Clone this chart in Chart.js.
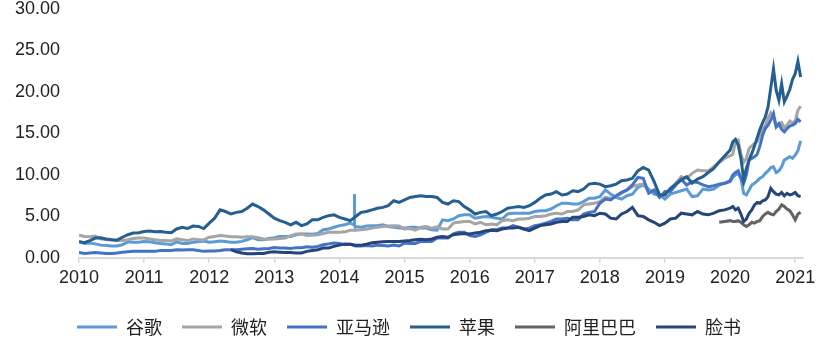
<!DOCTYPE html>
<html><head><meta charset="utf-8">
<script src="https://cdn.jsdelivr.net/npm/chart.js@4/dist/chart.umd.min.js"></script>
<style>html,body{margin:0;padding:0;background:#fff}#wrap{width:824px;height:358px;position:relative}</style>
</head><body><div id="wrap"><canvas id="c"></canvas></div>
<script>
// Date grid: monthly 2010-2019, half-monthly 2020 - Feb 2021 (decimal years)
const dates = [];
for (let i = 0; i < 120; i++) dates.push(2010 + i / 12);
for (let k = 0; k <= 26; k++) dates.push(2020 + k / 24);

const seriesNames = ['谷歌', '微软', '亚马逊', '苹果', '阿里巴巴', '脸书'];
const seriesColors = ['#5B9BD5', '#A5A5A5', '#4472C4', '#255E91', '#636363', '#264478'];
const seriesStart = [0, 0, 0, 0, 118, 28];
const xTickYears = [2010, 2011, 2012, 2013, 2014, 2015, 2016, 2017, 2018, 2019, 2020, 2021];
const yTicks = [0, 5, 10, 15, 20, 25, 30];

const google = [
  2.0, 1.75, 1.8, 1.7, 1.55, 1.5, 1.45, 1.45, 1.6, 1.95, 1.9, 1.9,
  2.0, 1.95, 1.85, 1.75, 1.7, 1.6, 1.95, 1.75, 1.75, 1.9, 1.95, 2.05,
  1.9, 1.95, 2.05, 2.0, 1.9, 1.9, 2.0, 2.2, 2.45, 2.2, 2.2, 2.35,
  2.45, 2.6, 2.6, 2.6, 2.8, 2.9, 2.9, 2.85, 2.95, 3.4, 3.5, 3.7,
  3.9, 4.0, 4.2, 3.8, 3.7, 3.85, 3.9, 3.9, 4.0, 3.8, 3.7, 3.6,
  3.6, 3.7, 3.7, 3.6, 3.6, 3.4, 3.35, 4.6, 4.5, 4.7, 5.1, 5.2,
  5.2, 4.8, 4.9, 5.0, 4.9, 4.8, 4.7, 5.3, 5.4, 5.4, 5.4, 5.4,
  5.6, 5.7, 5.7, 5.9, 6.3, 6.6, 6.6, 6.5, 6.5, 6.8, 7.2, 7.2,
  7.4, 8.2, 7.7, 7.3, 7.1, 7.5, 7.7, 8.5, 8.8, 8.3, 7.7, 7.6,
  7.1, 7.7, 7.9, 8.1, 8.3, 7.4, 7.5, 8.3, 8.2, 8.3, 8.8, 9.0,
  9.2, 9.7, 10.0, 10.2, 9.6, 7.8, 7.6, 8.2, 8.8, 9.0, 9.3, 9.6, 9.8, 10.2,
  10.5, 10.9, 11.0, 10.3, 10.5, 11.0, 11.8, 12.0, 12.2, 12.0, 12.4, 12.9, 14.1
];
const googleSpike = [[2014.226, 4.0], [2014.23, 7.7], [2014.234, 3.9]];

const microsoft = [
  2.75, 2.6, 2.55, 2.65, 2.3, 2.2, 2.2, 2.1, 2.1, 2.2, 2.35, 2.4,
  2.4, 2.3, 2.2, 2.1, 2.1, 2.05, 2.3, 2.2, 2.1, 2.3, 2.2, 2.2,
  2.5, 2.6, 2.7, 2.65, 2.55, 2.55, 2.5, 2.55, 2.55, 2.45, 2.3, 2.25,
  2.3, 2.35, 2.4, 2.7, 2.9, 2.9, 2.7, 2.75, 2.8, 2.95, 3.1, 3.1,
  3.1, 3.15, 3.35, 3.35, 3.4, 3.45, 3.6, 3.7, 3.8, 3.85, 3.9, 3.85,
  3.5, 3.55, 3.35, 3.7, 3.8, 3.6, 3.75, 3.5, 3.5, 4.2, 4.3, 4.4,
  4.4, 4.1, 4.3, 4.0, 4.1, 4.0, 4.5, 4.6, 4.5, 4.7, 4.7, 4.8,
  5.0, 5.0, 5.1, 5.3, 5.4, 5.3, 5.6, 5.6, 5.8, 6.4, 6.5, 6.6,
  6.8, 7.3, 7.2, 7.4, 7.8, 8.2, 8.6, 8.8, 8.9, 8.0, 8.2, 7.4,
  7.9, 8.2, 9.0, 9.8, 9.6, 10.2, 10.6, 10.5, 10.5, 11.0, 11.5, 12.0,
  12.3, 12.5, 14.0, 14.2, 12.5, 11.5, 12.0, 13.2, 13.5, 13.8, 14.0, 14.8, 15.5, 16.0,
  16.8, 17.5, 17.0, 15.8, 16.0, 16.3, 15.7, 16.0, 16.5, 16.3, 16.5, 17.8, 18.3
];

const amazon = [
  0.65, 0.55, 0.6, 0.65, 0.6, 0.55, 0.55, 0.6, 0.7, 0.75, 0.8, 0.8,
  0.8, 0.8, 0.8, 0.9, 0.9, 0.9, 1.0, 0.95, 1.0, 1.0, 0.9, 0.8,
  0.85, 0.85, 0.9, 1.0, 1.0, 1.0, 1.05, 1.1, 1.15, 1.05, 1.1, 1.15,
  1.25, 1.2, 1.2, 1.15, 1.25, 1.25, 1.35, 1.3, 1.4, 1.6, 1.7, 1.8,
  1.75, 1.6, 1.65, 1.45, 1.45, 1.5, 1.45, 1.55, 1.5, 1.45, 1.55, 1.45,
  1.8, 1.75, 1.75, 2.0, 2.0, 2.0, 2.4, 2.4, 2.4, 2.9, 3.1, 3.1,
  2.7, 2.6, 2.8, 3.1, 3.4, 3.4, 3.6, 3.6, 3.9, 3.7, 3.5, 3.6,
  3.9, 4.0, 4.2, 4.4, 4.7, 4.7, 4.8, 4.6, 4.6, 5.3, 5.5, 5.6,
  6.6, 7.1, 7.0, 7.5, 7.9, 8.2, 8.8, 9.7, 9.6, 7.8, 8.2, 7.3,
  8.0, 8.0, 8.8, 9.5, 8.8, 9.2, 9.1, 8.8, 8.6, 8.7, 8.9, 9.0,
  9.3, 10.0, 10.3, 10.5, 9.6, 9.0, 10.0, 11.8, 12.0, 12.2, 12.5, 13.5, 14.8, 15.6,
  16.0, 16.6, 17.4, 15.8, 16.2, 15.5, 15.2, 15.6, 15.9, 16.0, 16.2, 16.7, 16.4
];

const apple = [
  1.95, 1.85, 2.1, 2.4, 2.45, 2.3, 2.2, 2.15, 2.5, 2.8, 3.0, 3.05,
  3.2, 3.25, 3.15, 3.2, 3.1, 3.05, 3.5, 3.7, 3.55, 3.85, 3.8, 3.55,
  4.2, 4.8, 5.8, 5.6, 5.3, 5.5, 5.6, 6.0, 6.5, 6.2, 5.8, 5.3,
  4.8, 4.5, 4.3, 4.0, 4.3, 3.9, 4.1, 4.6, 4.6, 4.9, 5.1, 5.2,
  4.9, 4.7, 4.5, 5.0, 5.5, 5.6, 5.8, 6.0, 6.1, 6.3, 6.9, 6.7,
  7.0, 7.3, 7.4, 7.5, 7.4, 7.4, 7.3, 6.7, 6.5, 6.9, 6.8, 6.2,
  5.8, 5.3, 5.5, 5.6, 5.1, 5.3, 5.6, 6.0, 6.1, 6.2, 6.1, 6.3,
  6.7, 7.2, 7.6, 7.7, 8.0, 7.6, 7.7, 8.1, 8.0, 8.3, 8.9, 9.0,
  8.9, 8.6, 8.7, 8.9, 9.3, 9.4, 9.6, 10.5, 10.9, 10.6, 9.2, 7.6,
  7.6, 8.4, 8.9, 9.4, 9.8, 9.0, 9.5, 9.8, 10.3, 10.8, 11.6, 12.3,
  13.0, 14.0, 14.3, 13.6, 12.0, 9.5, 10.8, 11.8, 12.6, 13.5, 14.5, 15.5, 16.3, 17.0,
  18.2, 20.5, 22.8, 20.2, 19.0, 21.0, 18.8, 19.5, 20.3, 21.5, 22.2, 23.7, 21.8
];

const alibaba = [
  4.3, 4.4,
  4.5, 4.4, 4.4, 4.5, 4.3, 4.0, 3.8, 4.0, 4.3, 4.2, 4.4, 4.5, 5.0, 5.3,
  5.5, 5.3, 5.2, 5.6, 5.9, 6.4, 6.2, 5.9, 5.7, 5.2, 4.6, 5.3, 5.5
];

const facebook = [
  1.0, 0.75, 0.6, 0.5, 0.5, 0.55, 0.55, 0.7,
  0.75, 0.7, 0.65, 0.65, 0.6, 0.6, 0.8, 0.9, 1.0, 1.2, 1.2, 1.4,
  1.55, 1.7, 1.65, 1.55, 1.55, 1.65, 1.85, 1.9, 1.95, 2.0, 2.0, 2.0,
  2.05, 2.1, 2.2, 2.25, 2.2, 2.3, 2.5, 2.6, 2.5, 2.8, 2.9, 2.95,
  2.9, 3.0, 3.1, 3.3, 3.35, 3.3, 3.5, 3.6, 3.6, 3.7, 3.5, 3.3,
  3.6, 3.9, 4.0, 4.1, 4.3, 4.4, 4.4, 4.9, 4.9, 5.0, 5.2, 5.1,
  5.4, 5.3, 4.8, 4.7, 5.3, 5.6, 6.1, 5.1, 5.0, 4.6, 4.3, 3.9,
  4.2, 4.7, 4.8, 5.4, 5.3, 5.2, 5.6, 5.3, 5.2, 5.4, 5.7, 5.8,
  6.0, 6.2, 5.8, 6.0, 5.3, 4.4, 4.7, 5.4, 5.8, 6.4, 6.7, 6.6, 6.9, 7.0,
  7.4, 8.4, 8.0, 7.7, 7.6, 7.9, 7.5, 7.8, 7.6, 7.7, 7.9, 7.5, 7.4
];

const allValues = [google, microsoft, amazon, apple, alibaba, facebook];

function toPoints(vals, start) {
  return vals.map((v, i) => ({ x: dates[start + i], y: v }));
}

const datasets = allValues.map((vals, s) => {
  let pts = toPoints(vals, seriesStart[s]);
  if (s === 0) {
    pts = pts.concat(googleSpike.map(p => ({ x: p[0], y: p[1] })));
    pts.sort((a, b) => a.x - b.x);
  }
  return {
    label: seriesNames[s],
    data: pts,
    borderColor: seriesColors[s],
    backgroundColor: seriesColors[s],
    borderWidth: 3,
    pointRadius: 0,
    tension: 0,
    order: allValues.length - s
  };
});

new Chart(document.getElementById('c'), {
  type: 'line',
  data: { datasets },
  options: {
    responsive: true,
    maintainAspectRatio: false,
    animation: false,
    layout: { padding: { left: 15, right: 21, top: 0, bottom: 12 } },
    plugins: {
      tooltip: { enabled: false },
      legend: {
        position: 'bottom',
        labels: {
          boxWidth: 40,
          boxHeight: 3,
          padding: 20,
          color: '#222',
          font: { size: 18, family: '"Noto Sans CJK SC", sans-serif' },
          sort: (a, b) => a.datasetIndex - b.datasetIndex,
          generateLabels: (chart) => Chart.defaults.plugins.legend.labels.generateLabels(chart)
            .map(l => Object.assign(l, { lineWidth: 0, fillStyle: l.strokeStyle }))
        }
      }
    },
    scales: {
      x: {
        type: 'linear',
        min: 2010,
        max: 2021.12,
        afterBuildTicks: (axis) => { axis.ticks = xTickYears.map(v => ({ value: v })); },
        afterFit: (s) => { s.height = 40; },
        ticks: {
          callback: (v) => String(v),
          color: '#222',
          padding: 4,
          maxRotation: 0,
          font: { size: 18, family: '"Liberation Sans", Arial, sans-serif' }
        },
        grid: { drawOnChartArea: false, drawTicks: true, tickLength: 5, color: '#D9D9D9', lineWidth: 1.5 },
        border: { display: true, color: '#D9D9D9', width: 2 }
      },
      y: {
        min: 0,
        max: 30,
        afterBuildTicks: (axis) => { axis.ticks = yTicks.map(v => ({ value: v })); },
        afterFit: (s) => { s.width = 64; s.paddingTop = 9; s.paddingBottom = 0; },
        ticks: {
          callback: (v) => Number(v).toFixed(2),
          color: '#222',
          padding: 19,
          font: { size: 18, family: '"Liberation Sans", Arial, sans-serif' }
        },
        grid: { display: false, drawTicks: false },
        border: { display: false }
      }
    }
  }
});
</script>
</body></html>
